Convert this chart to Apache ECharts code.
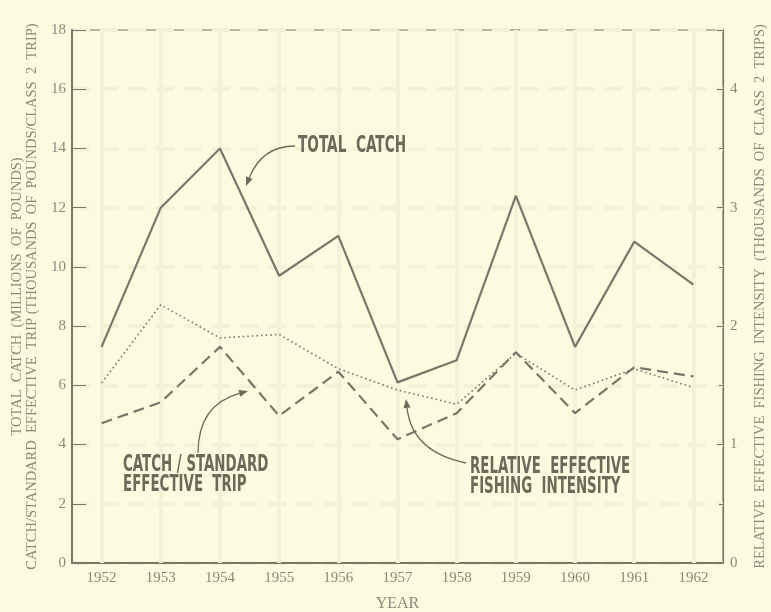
<!DOCTYPE html>
<html>
<head>
<meta charset="utf-8">
<title>Total catch and fishing intensity</title>
<script src="https://cdn.jsdelivr.net/npm/echarts@6/dist/echarts.min.js"></script>
<style>
  html, body { margin: 0; padding: 0; background: #fcfbe0; }
  #chart { width: 771px; height: 612px; }
</style>
</head>
<body>
<div id="chart"></div>
<script>
  // data
  var years = ["1952", "1953", "1954", "1955", "1956", "1957", "1958", "1959", "1960", "1961", "1962"];
  // millions of pounds (left axis)
  var totalCatch = [7.3, 12.0, 14.0, 9.7, 11.05, 6.1, 6.85, 12.4, 7.3, 10.85, 9.4];
  // thousands of pounds per class 2 trip (left axis)
  var catchPerTrip = [4.72, 5.43, 7.3, 4.97, 6.46, 4.18, 5.06, 7.12, 5.06, 6.61, 6.3];
  // thousands of class 2 trips (right axis)
  var fishingIntensity = [1.52, 2.18, 1.9, 1.93, 1.64, 1.46, 1.34, 1.77, 1.46, 1.64, 1.48];
  var leftTicks = [0, 2, 4, 6, 8, 10, 12, 14, 16, 18];
  var rightTicks = [0, 1, 2, 3, 4];

  var lineColor = "#77776a";
  var textColor = "#8a8a7c";
  var noteColor = "#6b6b5a";
  var gridColor = "#f3f2d9";

  var chart = echarts.init(document.getElementById("chart"));

  // curved arrow with a small head at the end
  function arrow(x0, y0, cx, cy, x1, y1) {
    var dx = x1 - cx, dy = y1 - cy;
    var len = Math.sqrt(dx * dx + dy * dy);
    var ux = dx / len, uy = dy / len;
    var hl = 9, hw = 3.5;
    var bx = x1 - ux * hl, by = y1 - uy * hl;
    return [
      {
        type: "bezierCurve",
        z: 100,
        shape: { x1: x0, y1: y0, cpx1: cx, cpy1: cy, x2: bx, y2: by },
        style: { stroke: noteColor, lineWidth: 1.3, fill: null }
      },
      {
        type: "polygon",
        z: 100,
        shape: { points: [[x1, y1], [bx - uy * hw, by + ux * hw], [bx + uy * hw, by - ux * hw]] },
        style: { fill: noteColor }
      }
    ];
  }

  // tall condensed lettering, stretched vertically
  function note(x, y, text, sx) {
    return {
      type: "text",
      z: 100,
      x: x,
      y: y,
      scaleX: sx,
      scaleY: 1.4,
      style: {
        text: text,
        fill: noteColor,
        font: "bold 16px 'DejaVu Sans Condensed', 'Liberation Sans Narrow', sans-serif",
        lineHeight: 14.5,
        verticalAlign: "top"
      }
    };
  }

  var graphics = []
    .concat(arrow(295, 146, 262, 146, 246, 186))
    .concat(arrow(198, 453, 198, 405, 248, 391))
    .concat(arrow(466, 463, 412, 452, 406, 399));
  graphics.push(note(298, 136, "TOTAL  CATCH", 0.95));
  graphics.push(note(123, 455, "CATCH / STANDARD\nEFFECTIVE  TRIP", 0.93));
  graphics.push(note(470, 457, "RELATIVE  EFFECTIVE\nFISHING  INTENSITY", 0.93));

  var serif = "'Liberation Serif', 'DejaVu Serif', serif";

  var option = {
    backgroundColor: "#fcfbe0",
    animation: false,
    grid: {
      left: 72,
      right: 48,
      top: 30,
      bottom: 49,
      outerBoundsMode: "none",
      show: true,
      borderColor: lineColor,
      borderWidth: 1.2,
      backgroundColor: "transparent"
    },
    xAxis: {
      type: "category",
      data: years,
      boundaryGap: true,
      name: "YEAR",
      nameLocation: "middle",
      nameGap: 33,
      nameTextStyle: { color: textColor, fontFamily: serif, fontSize: 16 },
      axisLine: { lineStyle: { color: lineColor, width: 2 } },
      axisTick: { show: true, inside: true, length: 4, alignWithLabel: true, lineStyle: { color: lineColor } },
      axisLabel: { color: textColor, fontFamily: serif, fontSize: 15, margin: 8 },
      splitLine: { show: false }
    },
    yAxis: [
      {
        type: "value",
        min: leftTicks[0],
        max: leftTicks[leftTicks.length - 1],
        interval: 2,
        name: "TOTAL  CATCH  (MILLIONS  OF  POUNDS)\nCATCH/STANDARD  EFFECTIVE  TRIP (THOUSANDS  OF  POUNDS/CLASS  2  TRIP)",
        nameLocation: "middle",
        nameRotate: 90,
        nameGap: 30,
        nameTextStyle: { color: textColor, fontFamily: serif, fontSize: 14.5, lineHeight: 15 },
        axisLine: { show: true, lineStyle: { color: lineColor, width: 2 } },
        axisTick: { show: true, inside: true, length: 14, lineStyle: { color: lineColor } },
        axisLabel: { color: textColor, fontFamily: serif, fontSize: 15, margin: 6 },
        splitLine: { show: true, lineStyle: { color: gridColor, width: 4, type: [18, 10] } }
      },
      {
        type: "value",
        position: "right",
        min: rightTicks[0],
        max: 4.5,
        interval: 1,
        name: "RELATIVE  EFFECTIVE  FISHING  INTENSITY  (THOUSANDS  OF  CLASS  2  TRIPS)",
        nameLocation: "middle",
        nameRotate: 90,
        nameGap: 30,
        nameTextStyle: { color: textColor, fontFamily: serif, fontSize: 14.5 },
        axisLine: { show: true, lineStyle: { color: lineColor, width: 1.2 } },
        axisTick: { show: true, inside: true, length: 6, lineStyle: { color: lineColor } },
        minorTick: { show: true, splitNumber: 2, length: 4, lineStyle: { color: lineColor } },
        axisLabel: {
          color: textColor, fontFamily: serif, fontSize: 15, margin: 7,
          formatter: function (v) { return v > 4 ? "" : String(v); }
        },
        splitLine: { show: false }
      }
    ],
    series: [
      {
        name: "Total catch",
        type: "line",
        data: totalCatch,
        yAxisIndex: 0,
        symbol: "none",
        z: 5,
        lineStyle: { color: lineColor, width: 2.2 },
        // faint vertical grid at each year
        markLine: {
          silent: true,
          symbol: "none",
          label: { show: false },
          z: 1,
          lineStyle: { color: gridColor, width: 4, type: "solid" },
          data: years.map(function (y) { return { xAxis: y }; })
        }
      },
      {
        name: "Catch/standard effective trip",
        type: "line",
        data: catchPerTrip,
        yAxisIndex: 0,
        symbol: "none",
        z: 5,
        lineStyle: { color: lineColor, width: 2.2, type: [11, 6] }
      },
      {
        name: "Relative effective fishing intensity",
        type: "line",
        data: fishingIntensity,
        yAxisIndex: 1,
        symbol: "none",
        z: 5,
        lineStyle: { color: lineColor, width: 1.6, type: [1.6, 3] }
      }
    ],
    graphic: graphics
  };

  chart.setOption(option);
</script>
</body>
</html>
